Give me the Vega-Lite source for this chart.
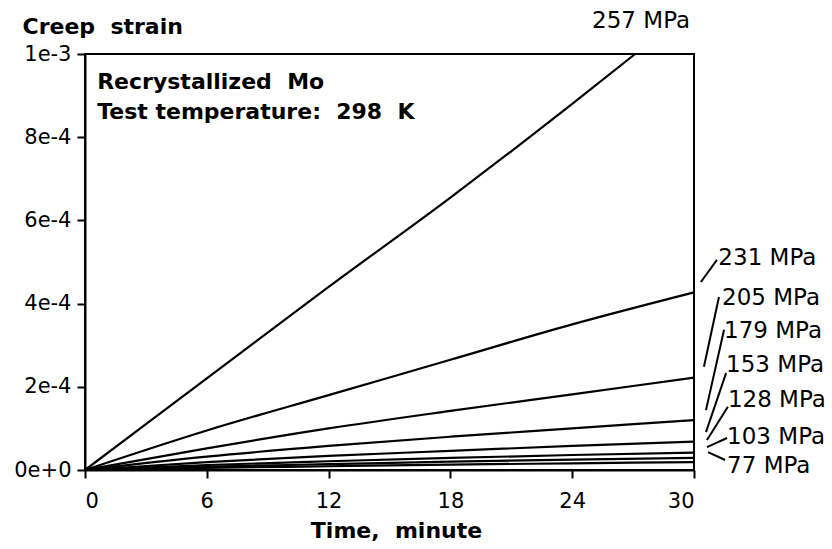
{
  "$schema": "https://vega.github.io/schema/vega-lite/v6.json",
  "width": 609,
  "height": 416,
  "autosize": {"type": "none"},
  "padding": {"left": 85, "top": 54, "right": 138, "bottom": 79},
  "background": "white",
  "config": {
    "view": {"stroke": "black", "strokeWidth": 2},
    "axis": {"grid": false, "domainColor": "black", "domainWidth": 2, "tickColor": "black", "tickWidth": 2, "tickSize": 8, "labelFont": "DejaVu Sans", "labelFontSize": 21, "labelColor": "black", "titleFont": "DejaVu Sans", "titleFontSize": 22, "titleFontWeight": "bold", "titleColor": "black"}
  },
  "datasets": {
    "curves": [
      {"stress": "257 MPa", "t": 0, "strain": 0},
      {"stress": "257 MPa", "t": 6, "strain": 0.00022},
      {"stress": "257 MPa", "t": 12, "strain": 0.00044},
      {"stress": "257 MPa", "t": 18, "strain": 0.000655},
      {"stress": "257 MPa", "t": 24, "strain": 0.00088},
      {"stress": "257 MPa", "t": 27.1, "strain": 0.001},
      {"stress": "231 MPa", "t": 0, "strain": 0},
      {"stress": "231 MPa", "t": 6, "strain": 0.000095},
      {"stress": "231 MPa", "t": 12, "strain": 0.00018},
      {"stress": "231 MPa", "t": 18, "strain": 0.000265},
      {"stress": "231 MPa", "t": 24, "strain": 0.00035},
      {"stress": "231 MPa", "t": 30, "strain": 0.000427},
      {"stress": "205 MPa", "t": 0, "strain": 0},
      {"stress": "205 MPa", "t": 6, "strain": 0.000052},
      {"stress": "205 MPa", "t": 12, "strain": 0.0001},
      {"stress": "205 MPa", "t": 18, "strain": 0.000142},
      {"stress": "205 MPa", "t": 24, "strain": 0.000182},
      {"stress": "205 MPa", "t": 30, "strain": 0.000222},
      {"stress": "179 MPa", "t": 0, "strain": 0},
      {"stress": "179 MPa", "t": 6, "strain": 0.000032},
      {"stress": "179 MPa", "t": 12, "strain": 0.000058},
      {"stress": "179 MPa", "t": 18, "strain": 0.00008},
      {"stress": "179 MPa", "t": 24, "strain": 0.0001},
      {"stress": "179 MPa", "t": 30, "strain": 0.00012},
      {"stress": "153 MPa", "t": 0, "strain": 0},
      {"stress": "153 MPa", "t": 6, "strain": 0.000019},
      {"stress": "153 MPa", "t": 12, "strain": 0.000034},
      {"stress": "153 MPa", "t": 18, "strain": 0.000046},
      {"stress": "153 MPa", "t": 24, "strain": 0.000058},
      {"stress": "153 MPa", "t": 30, "strain": 0.000068},
      {"stress": "128 MPa", "t": 0, "strain": 0},
      {"stress": "128 MPa", "t": 6, "strain": 0.000012},
      {"stress": "128 MPa", "t": 12, "strain": 0.000021},
      {"stress": "128 MPa", "t": 18, "strain": 0.000029},
      {"stress": "128 MPa", "t": 24, "strain": 0.000036},
      {"stress": "128 MPa", "t": 30, "strain": 0.000042},
      {"stress": "103 MPa", "t": 0, "strain": 0},
      {"stress": "103 MPa", "t": 6, "strain": 0.000008},
      {"stress": "103 MPa", "t": 12, "strain": 0.000014},
      {"stress": "103 MPa", "t": 18, "strain": 0.00002},
      {"stress": "103 MPa", "t": 24, "strain": 0.000025},
      {"stress": "103 MPa", "t": 30, "strain": 0.000029},
      {"stress": "77 MPa", "t": 0, "strain": 0},
      {"stress": "77 MPa", "t": 6, "strain": 0.000005},
      {"stress": "77 MPa", "t": 12, "strain": 0.000009},
      {"stress": "77 MPa", "t": 18, "strain": 0.000013},
      {"stress": "77 MPa", "t": 24, "strain": 0.000016},
      {"stress": "77 MPa", "t": 30, "strain": 0.000019}
    ],
    "labels": [
      {"label": "257 MPa", "lx": 24.98, "ly": 0.00108},
      {"label": "231 MPa", "lx": 31.2, "ly": 0.00051},
      {"label": "205 MPa", "lx": 31.38, "ly": 0.000414},
      {"label": "179 MPa", "lx": 31.48, "ly": 0.000334},
      {"label": "153 MPa", "lx": 31.58, "ly": 0.000253},
      {"label": "128 MPa", "lx": 31.67, "ly": 0.000168},
      {"label": "103 MPa", "lx": 31.63, "ly": 0.00008},
      {"label": "77 MPa", "lx": 31.63, "ly": 0.00001}
    ],
    "leaders": [
      {"x1": 30.34, "y1": 0.000452, "x2": 31.13, "y2": 0.000505},
      {"x1": 30.49, "y1": 0.000248, "x2": 31.23, "y2": 0.000416},
      {"x1": 30.59, "y1": 0.000144, "x2": 31.48, "y2": 0.000337},
      {"x1": 30.59, "y1": 0.000091, "x2": 31.58, "y2": 0.000233},
      {"x1": 30.64, "y1": 0.000072, "x2": 31.67, "y2": 0.000152},
      {"x1": 30.64, "y1": 0.000055, "x2": 31.63, "y2": 0.000077},
      {"x1": 30.69, "y1": 0.000043, "x2": 31.53, "y2": 0.000024}
    ],
    "notes": [
      {"text": "Recrystallized\u00a0\u00a0Mo", "nx": 0.6, "ny": 0.000933},
      {"text": "Test temperature:\u00a0\u00a0298\u00a0\u00a0K", "nx": 0.6, "ny": 0.00086}
    ]
  },
  "layer": [
    {
      "data": {"name": "curves"},
      "mark": {"type": "line", "color": "black", "strokeWidth": 2.2, "interpolate": "monotone"},
      "encoding": {
        "x": {"field": "t", "type": "quantitative", "scale": {"domain": [0, 30], "nice": false},
          "axis": {"values": [0, 6, 12, 18, 24, 30], "title": "Time,\u00a0\u00a0minute", "labelPadding": 12, "titleY": 60, "titleBaseline": "middle", "titleX": 311}},
        "y": {"field": "strain", "type": "quantitative", "scale": {"domain": [0, 0.001], "nice": false},
          "axis": {"values": [0, 0.0002, 0.0004, 0.0006, 0.0008, 0.001], "format": ".0e", "labelPadding": 6, "title": "Creep\u00a0\u00a0strain", "titleAngle": 0, "titleAlign": "left", "titleBaseline": "alphabetic", "titleX": -63, "titleY": -21}},
        "detail": {"field": "stress"}
      }
    },
    {
      "data": {"name": "leaders"},
      "mark": {"type": "rule", "color": "black", "strokeWidth": 2},
      "encoding": {
        "x": {"field": "x1", "type": "quantitative"},
        "y": {"field": "y1", "type": "quantitative"},
        "x2": {"field": "x2"},
        "y2": {"field": "y2"}
      }
    },
    {
      "data": {"name": "labels"},
      "mark": {"type": "text", "font": "DejaVu Sans", "fontSize": 23, "color": "black", "baseline": "middle", "align": "left"},
      "encoding": {
        "x": {"field": "lx", "type": "quantitative"},
        "y": {"field": "ly", "type": "quantitative"},
        "text": {"field": "label"}
      }
    },
    {
      "data": {"name": "notes"},
      "mark": {"type": "text", "font": "DejaVu Sans", "fontSize": 22, "fontWeight": "bold", "color": "black", "align": "left", "baseline": "middle"},
      "encoding": {
        "x": {"field": "nx", "type": "quantitative"},
        "y": {"field": "ny", "type": "quantitative"},
        "text": {"field": "text"}
      }
    }
  ]
}
